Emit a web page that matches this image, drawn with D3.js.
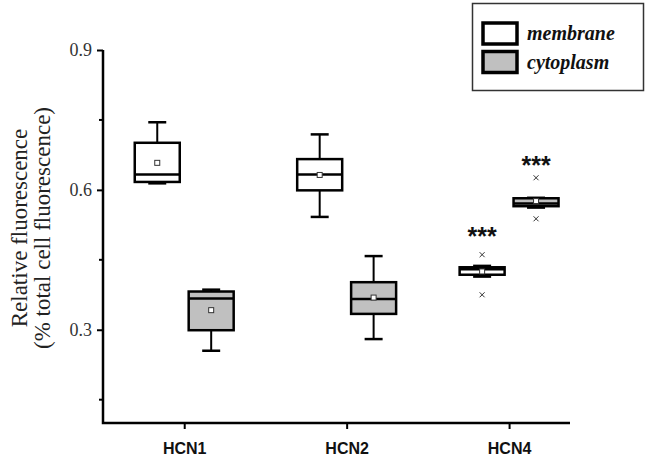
<!DOCTYPE html>
<html>
<head>
<meta charset="utf-8">
<script src="https://cdn.jsdelivr.net/npm/d3@7"></script>
<style>
  body { margin: 0; background: #fff; }
  svg { display: block; }
</style>
</head>
<body>
<svg id="chart"></svg>
<script>
// chart size
let width = 646
let height = 460

// data
let categories = ['HCN1', 'HCN2', 'HCN4']

let membraneMin    = [0.614, 0.542, 0.414]
let membraneQ1     = [0.617, 0.599, 0.418]
let membraneMedian = [0.633, 0.633, 0.430]
let membraneQ3     = [0.701, 0.666, 0.434]
let membraneMax    = [0.745, 0.719, 0.437]
let membraneMean   = [0.658, 0.632, 0.425]
let membraneOutliers = [[], [], [0.461, 0.375]]
let membraneStars  = ['', '', '***']
let membraneStarAt = [null, null, 0.507]

let cytoMin    = [0.255, 0.280, 0.562]
let cytoQ1     = [0.299, 0.334, 0.565]
let cytoMedian = [0.367, 0.366, 0.571]
let cytoQ3     = [0.382, 0.402, 0.582]
let cytoMax    = [0.386, 0.458, 0.583]
let cytoMean   = [0.342, 0.369, 0.576]
let cytoOutliers = [[], [], [0.626, 0.538]]
let cytoStars  = ['', '', '***']
let cytoStarAt = [null, null, 0.660]

let yTicks = [0.3, 0.6, 0.9]
let yMinorTicks = [0.15, 0.45, 0.75]

let seriesNames = ['membrane', 'cytoplasm']
let seriesFill = ['#ffffff', '#c0c0c0']

// build the series rows from the arrays
function makeRows(mins, q1s, meds, q3s, maxs, means, outs, stars, starAt, offset, fill) {
    return categories.map((c, i) => ({
        cat: c, pos: i + 1 + offset,
        min: mins[i], q1: q1s[i], med: meds[i], q3: q3s[i], max: maxs[i],
        mean: means[i], outliers: outs[i], star: stars[i], starAt: starAt[i], fill: fill
    }))
}
let boxOffset = 0.166
let boxWidth = 0.277
let rows = makeRows(membraneMin, membraneQ1, membraneMedian, membraneQ3, membraneMax,
                    membraneMean, membraneOutliers, membraneStars, membraneStarAt, -boxOffset, seriesFill[0])
    .concat(makeRows(cytoMin, cytoQ1, cytoMedian, cytoQ3, cytoMax,
                    cytoMean, cytoOutliers, cytoStars, cytoStarAt, boxOffset, seriesFill[1]))

let svg = d3.select('#chart')
            .attr('width', width)
            .attr('height', height)

// scales
let xScale = d3.scaleLinear().domain([0.5, 3.375]).range([103, 570])
let yScale = d3.scaleLinear().domain([0.1, 0.9]).range([423, 50])

// y axis
let yAxis = d3.axisLeft(yScale).tickValues(yTicks).tickSize(6).tickPadding(5)
    .tickFormat(d3.format('.1f'))
let gy = svg.append('g').attr('transform', 'translate(103,0)').call(yAxis)
gy.select('.domain').remove()
gy.selectAll('.tick line').attr('stroke', '#000').attr('stroke-width', 2)
gy.selectAll('.tick text')
    .attr('font-family', '"Liberation Serif", "Times New Roman", serif')
    .attr('font-size', 18).attr('fill', '#333')

svg.append('g').selectAll('line')
    .data(yMinorTicks)
    .enter()
    .append('line')
    .attr('x1', 99).attr('x2', 103)
    .attr('y1', d => yScale(d)).attr('y2', d => yScale(d))
    .attr('stroke', '#000').attr('stroke-width', 2)

// x axis
let xAxis = d3.axisBottom(xScale).tickValues([1, 2, 3]).tickSize(6).tickPadding(14)
    .tickFormat(d => categories[d - 1])
let gx = svg.append('g').attr('transform', 'translate(0,423)').call(xAxis)
gx.select('.domain').remove()
gx.selectAll('.tick line').attr('stroke', '#000').attr('stroke-width', 2)
gx.selectAll('.tick text')
    .attr('font-family', '"Liberation Sans", Arial, sans-serif')
    .attr('font-weight', 'bold').attr('font-size', 16).attr('fill', '#111')

// axis lines
svg.append('path')
    .attr('d', 'M' + xScale(0.5) + ',' + yScale(0.9) + 'V' + yScale(0.1) + 'H' + xScale(3.375))
    .attr('fill', 'none').attr('stroke', '#000').attr('stroke-width', 2.5)

// y title
let yTitle = svg.append('text')
    .attr('transform', 'translate(0,' + 228 + ') rotate(-90)')
    .attr('text-anchor', 'middle')
    .attr('font-family', '"Liberation Serif", "Times New Roman", serif')
    .attr('font-size', 23).attr('fill', '#222')
yTitle.append('tspan').attr('x', 0).attr('y', 27).text('Relative fluorescence')
yTitle.append('tspan').attr('x', 0).attr('y', 50).text('(% total cell fluorescence)')

// boxes
let capHalf = 9
let boxes = svg.append('g').selectAll('g')
    .data(rows)
    .enter()
    .append('g')

let halfW = (xScale(1 + boxWidth / 2) - xScale(1 - boxWidth / 2)) / 2

boxes.append('line')
    .attr('x1', d => xScale(d.pos)).attr('x2', d => xScale(d.pos))
    .attr('y1', d => yScale(d.max)).attr('y2', d => yScale(d.min))
    .attr('stroke', '#000').attr('stroke-width', 2)

boxes.selectAll('.cap')
    .data(d => [d.min, d.max].map(v => ({ v: v, pos: d.pos })))
    .enter()
    .append('line')
    .attr('class', 'cap')
    .attr('x1', d => xScale(d.pos) - capHalf).attr('x2', d => xScale(d.pos) + capHalf)
    .attr('y1', d => yScale(d.v)).attr('y2', d => yScale(d.v))
    .attr('stroke', '#000').attr('stroke-width', 2.5)

boxes.append('rect')
    .attr('x', d => xScale(d.pos) - halfW)
    .attr('width', halfW * 2)
    .attr('y', d => yScale(d.q3))
    .attr('height', d => yScale(d.q1) - yScale(d.q3))
    .attr('fill', d => d.fill)
    .attr('stroke', '#000').attr('stroke-width', 2.5)

boxes.append('line')
    .attr('x1', d => xScale(d.pos) - halfW).attr('x2', d => xScale(d.pos) + halfW)
    .attr('y1', d => yScale(d.med)).attr('y2', d => yScale(d.med))
    .attr('stroke', '#000').attr('stroke-width', 2.5)

// mean marker
boxes.append('rect')
    .attr('x', d => xScale(d.pos) - 2.5)
    .attr('y', d => yScale(d.mean) - 2.5)
    .attr('width', 5).attr('height', 5)
    .attr('fill', '#fff').attr('stroke', '#333').attr('stroke-width', 1)

// outliers
boxes.selectAll('.out')
    .data(d => d.outliers.map(v => ({ v: v, pos: d.pos })))
    .enter()
    .append('path')
    .attr('class', 'out')
    .attr('d', d => {
        let x = xScale(d.pos), y = yScale(d.v), s = 2.5
        return 'M' + (x - s) + ',' + (y - s) + 'L' + (x + s) + ',' + (y + s) +
               'M' + (x - s) + ',' + (y + s) + 'L' + (x + s) + ',' + (y - s)
    })
    .attr('stroke', '#333').attr('stroke-width', 1)

// significance stars
boxes.filter(d => d.star)
    .append('text')
    .attr('x', d => xScale(d.pos))
    .attr('y', d => yScale(d.starAt) + 12)
    .attr('text-anchor', 'middle')
    .attr('font-family', '"Liberation Sans", Arial, sans-serif')
    .attr('font-weight', 'bold').attr('font-size', 25).attr('fill', '#111')
    .text(d => d.star)

// legend
let legend = svg.append('g')
legend.append('rect')
    .attr('x', 472.5).attr('y', 3.5).attr('width', 171).attr('height', 87)
    .attr('fill', '#fff').attr('stroke', '#333').attr('stroke-width', 1.5)

let items = legend.selectAll('g')
    .data(seriesNames)
    .enter()
    .append('g')
    .attr('transform', (d, i) => 'translate(0,' + (i * 28.5) + ')')

items.append('rect')
    .attr('x', 483).attr('y', 23).attr('width', 34).attr('height', 21)
    .attr('fill', (d, i) => seriesFill[i])
    .attr('stroke', '#000').attr('stroke-width', 3.5)

items.append('text')
    .attr('x', 527).attr('y', 40)
    .attr('font-family', '"Liberation Serif", "Times New Roman", serif')
    .attr('font-style', 'italic').attr('font-weight', 'bold')
    .attr('font-size', 20).attr('fill', '#111')
    .text(d => d)
</script>
</body>
</html>
